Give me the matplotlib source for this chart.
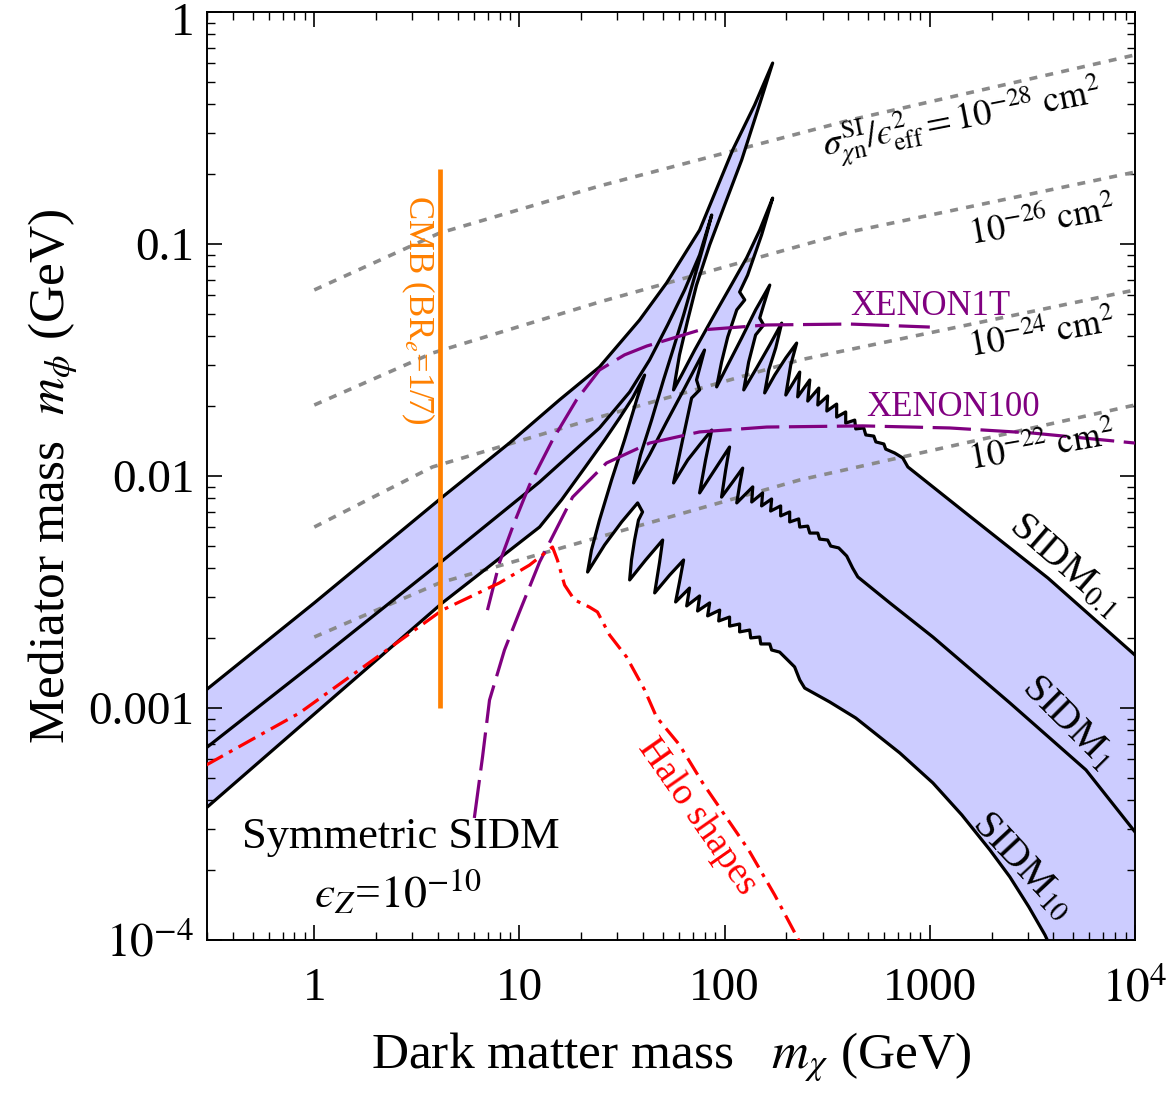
import numpy as np
import matplotlib
matplotlib.use('Agg')
import matplotlib.pyplot as plt
from matplotlib.ticker import FixedLocator, FixedFormatter, LogLocator, NullFormatter
from matplotlib.transforms import ScaledTranslation

plt.rcParams['font.family'] = ['Liberation Serif', 'DejaVu Serif']
plt.rcParams['mathtext.fontset'] = 'stix'

# ---------------- data (log10 of GeV) ----------------
s01_lx = [-0.527, 0.000, 0.624, 0.951, 1.195, 1.390, 1.585, 1.717, 1.878, 2.039, 2.146, 2.234,
          2.180, 2.083, 2.000, 1.927, 1.863, 1.820, 1.780, 1.751,
          1.790, 1.854, 1.941, 2.024, 2.107, 2.171, 2.234,
          2.180, 2.112, 2.073, 2.098, 2.059, 2.015, 1.985, 1.961,
          2.015, 2.083, 2.151, 2.220,
          2.190, 2.171, 2.190, 2.151, 2.117, 2.093,
          2.156, 2.220, 2.278, 2.249, 2.215, 2.195,
          2.244, 2.298, 2.351, 2.322, 2.298,
          2.366, 2.356, 2.415, 2.405, 2.459, 2.454, 2.502, 2.498, 2.546, 2.546, 2.590, 2.590,
          2.634, 2.639, 2.678, 2.688, 2.727, 2.737, 2.776, 2.785, 2.829, 2.868, 2.893,
          3.200, 3.576, 4.000]
s01_ly = [-2.922, -2.547, -2.091, -1.858, -1.672, -1.530, -1.328, -1.168, -0.940, -0.595, -0.401, -0.220,
          -0.371, -0.638, -0.832, -1.004, -1.177, -1.328, -1.478, -1.629,
          -1.565, -1.457, -1.319, -1.190, -1.060, -0.940, -0.802,
          -0.961, -1.134, -1.207, -1.241, -1.284, -1.401, -1.509, -1.616,
          -1.522, -1.405, -1.284, -1.177,
          -1.263, -1.319, -1.349, -1.392, -1.509, -1.629,
          -1.534, -1.435, -1.341, -1.448, -1.543, -1.642,
          -1.565, -1.491, -1.427, -1.522, -1.651,
          -1.552, -1.659, -1.586, -1.677, -1.621, -1.694, -1.655, -1.720, -1.690, -1.746, -1.724, -1.772,
          -1.759, -1.797, -1.793, -1.823, -1.828, -1.853, -1.862, -1.884, -1.901, -1.922, -1.961,
          -2.177, -2.440, -2.772]

s1_lx = [-0.527, 0.000, 0.624, 1.098, 1.390, 1.537, 1.634, 1.722, 1.805, 1.878, 1.937,
         1.898, 1.849, 1.800, 1.751, 1.702, 1.644, 1.590, 1.556,
         1.634, 1.717, 1.805, 1.902, 1.863, 1.878, 1.839, 1.795, 1.751,
         1.820, 1.878, 1.937, 1.907, 1.878,
         1.951, 2.024, 2.005, 1.985,
         2.039, 2.088, 2.073, 2.059,
         2.137, 2.132,
         2.185, 2.180, 2.229, 2.224, 2.273, 2.273, 2.317, 2.317, 2.361, 2.366, 2.405, 2.415,
         2.454, 2.463, 2.502, 2.517, 2.556, 2.595, 2.624, 2.649,
         2.805, 3.015, 3.390, 3.761, 4.000]
s1_ly = [-3.172, -2.806, -2.366, -2.026, -1.793, -1.638, -1.500, -1.349, -1.198, -1.047, -0.875,
         -1.004, -1.155, -1.306, -1.448, -1.586, -1.759, -1.909, -2.030,
         -1.909, -1.767, -1.621, -1.457, -1.586, -1.629, -1.664, -1.845, -2.030,
         -1.931, -1.866, -1.802, -1.931, -2.073,
         -1.974, -1.875, -1.974, -2.091,
         -2.026, -1.966, -2.039, -2.116,
         -2.047, -2.112,
         -2.073, -2.129, -2.099, -2.151, -2.129, -2.172, -2.155, -2.198, -2.185, -2.220, -2.216, -2.246,
         -2.246, -2.272, -2.276, -2.302, -2.310, -2.345, -2.397, -2.435,
         -2.547, -2.694, -2.978, -3.267, -3.534]

s10_lx = [-0.527, 0.000, 0.624, 1.098, 1.205, 1.317, 1.415, 1.488, 1.551, 1.610,
          1.571, 1.512, 1.449, 1.390, 1.351, 1.332,
          1.415, 1.498, 1.576, 1.600, 1.580, 1.561, 1.546, 1.537,
          1.615, 1.698, 1.683, 1.659,
          1.732, 1.800, 1.780, 1.761,
          1.829, 1.815, 1.878, 1.868, 1.927, 1.917, 1.976, 1.971, 2.024, 2.024, 2.073, 2.073,
          2.122, 2.127, 2.171, 2.176, 2.220, 2.229, 2.268, 2.307, 2.341, 2.366, 2.390,
          2.512, 2.639, 2.854, 3.015, 3.156, 3.293, 3.390, 3.483, 3.561, 3.595]
s10_ly = [-3.431, -3.026, -2.547, -2.220, -2.103, -1.966, -1.845, -1.750, -1.664, -1.565,
          -1.672, -1.845, -2.017, -2.190, -2.319, -2.414,
          -2.297, -2.198, -2.116, -2.155, -2.190, -2.276, -2.362, -2.448,
          -2.362, -2.276, -2.371, -2.504,
          -2.427, -2.362, -2.457, -2.543,
          -2.483, -2.560, -2.517, -2.582, -2.547, -2.603, -2.578, -2.625, -2.608, -2.647, -2.638, -2.672,
          -2.664, -2.698, -2.694, -2.724, -2.724, -2.750, -2.759, -2.793, -2.823, -2.879, -2.914,
          -2.974, -3.043, -3.194, -3.323, -3.461, -3.612, -3.728, -3.858, -3.978, -4.043]

sig28_lx = [0.0, 0.610, 1.390, 2.610, 4.0]
sig28_ly = [-1.198, -0.953, -0.750, -0.466, -0.185]
sig26_lx = [0.0, 0.576, 1.390, 2.610, 4.0]
sig26_ly = [-1.694, -1.470, -1.250, -0.948, -0.690]
sig24_lx = [0.0, 0.576, 1.390, 2.366, 4.0]
sig24_ly = [-2.220, -1.961, -1.746, -1.500, -1.198]
sig22_lx = [0.0, 0.610, 1.390, 2.366, 4.0]
sig22_ly = [-2.694, -2.461, -2.263, -2.017, -1.694]

x1t_lx = [0.844, 0.902, 0.976, 1.049, 1.161, 1.278, 1.390, 1.512, 1.620, 1.878, 2.205, 2.610, 3.0]
x1t_ly = [-2.578, -2.375, -2.198, -2.039, -1.845, -1.672, -1.543, -1.478, -1.440, -1.371, -1.349, -1.345, -1.358]
x100_lx = [0.780, 0.820, 0.854, 0.927, 1.0, 1.098, 1.259, 1.424, 1.634, 1.878, 2.205, 2.673, 3.098, 3.502, 4.0]
x100_ly = [-3.474, -3.211, -2.966, -2.750, -2.586, -2.371, -2.091, -1.944, -1.858, -1.810, -1.789,
           -1.784, -1.793, -1.815, -1.858]

halo_lx = [-0.527, -0.073, 0.624, 0.902, 1.049, 1.161, 1.185, 1.220, 1.268, 1.341, 1.380, 1.439,
           1.522, 1.610, 1.668, 1.780, 1.893, 2.0, 2.117, 2.244, 2.366]
halo_ly = [-3.246, -3.022, -2.578, -2.461, -2.384, -2.306, -2.362, -2.470, -2.534, -2.565, -2.586,
           -2.685, -2.780, -2.922, -3.039, -3.159, -3.323, -3.461, -3.612, -3.806, -4.009]

cmb_mchi = 4.12
cmb_mphi = [0.001, 0.21]

xticks = [1, 10, 100, 1000, 1e4]
xticklabels = ['1', '10', '100', '1000', r'$10^4$']
yticks = [1e-4, 1e-3, 1e-2, 1e-1, 1]
yticklabels = [r'$10^{-4}$', '0.001', '0.01', '0.1', '1']

xlim = (0.3, 1e4)
ylim = (1e-4, 1)


def p(a):
    return 10.0 ** np.asarray(a)


fig = plt.figure(figsize=(11.66, 10.95), dpi=100)
ax = fig.add_axes([207 / 1166, 1 - 940 / 1095, 928 / 1166, 928 / 1095])
ax.set_xscale('log')
ax.set_yscale('log')

# shaded band between SIDM_0.1 and SIDM_10
fx = np.concatenate([p(s01_lx), [xlim[1] * 1.2, xlim[1] * 1.2], p(s10_lx)[::-1]])
fy = np.concatenate([p(s01_ly), [p(s01_ly)[-1], ylim[0] * 0.8], p(s10_ly)[::-1]])
ax.fill(fx, fy, color='#ccccff', lw=0, zorder=1)

gray = '#8a8a8a'
for lx, ly in [(sig28_lx, sig28_ly), (sig26_lx, sig26_ly), (sig24_lx, sig24_ly), (sig22_lx, sig22_ly)]:
    ax.plot(p(lx), p(ly), color=gray, lw=2.6, linestyle=(0, (2.2, 2.3)), zorder=2)

for lx, ly in [(s01_lx, s01_ly), (s1_lx, s1_ly), (s10_lx, s10_ly)]:
    ax.plot(p(lx), p(ly), color='black', lw=2.3, solid_joinstyle='round', zorder=3)

purple = '#800080'
ax.plot(p(x1t_lx), p(x1t_ly), color=purple, lw=2.3, linestyle=(0, (12, 3)), zorder=4)
ax.plot(p(x100_lx), p(x100_ly), color=purple, lw=2.3, linestyle=(0, (12, 3)), zorder=4)

ax.plot(p(halo_lx), p(halo_ly), color='#ff0000', lw=2.3, linestyle=(0, (6, 2.2, 1.2, 2.2)), zorder=4)

ax.plot([cmb_mchi, cmb_mchi], cmb_mphi, color='#ff8000', lw=3.4, solid_capstyle='butt', zorder=5)

ax.set_xlim(*xlim)
ax.set_ylim(*ylim)

ax.xaxis.set_major_locator(FixedLocator(xticks))
ax.xaxis.set_major_formatter(FixedFormatter(xticklabels))
ax.yaxis.set_major_locator(FixedLocator(yticks))
ax.yaxis.set_major_formatter(FixedFormatter(yticklabels))
ax.xaxis.set_minor_locator(LogLocator(base=10, subs=np.arange(2, 10), numticks=20))
ax.yaxis.set_minor_locator(LogLocator(base=10, subs=np.arange(2, 10), numticks=20))
ax.xaxis.set_minor_formatter(NullFormatter())
ax.yaxis.set_minor_formatter(NullFormatter())
ax.tick_params(which='both', direction='in', top=True, right=True)
ax.tick_params(which='major', length=11, width=1.2)
ax.tick_params(which='minor', length=6, width=1.0)
ax.tick_params(axis='x', which='major', pad=20, labelsize=34)
ax.tick_params(axis='y', which='major', pad=9, labelsize=34)
for s in ax.spines.values():
    s.set_linewidth(1.4)

# nudge the top y tick label ("1") down so it stays inside the figure
top_tick = ax.yaxis.get_major_ticks()[-1]
top_tick.label1.set_transform(top_tick.label1.get_transform() +
                              ScaledTranslation(0, -0.07, fig.dpi_scale_trans))

ax.set_xlabel(r'Dark matter mass   $m_\chi$ (GeV)', fontsize=37, labelpad=14)
ax.set_ylabel(r'Mediator mass  $m_\phi$ (GeV)', fontsize=37, labelpad=6)

T = ax.transAxes
ax.text(0.8136, 0.8815, '$\\sigma^{\\rm SI}_{\\chi{\\rm n}}/\u03f5^2_{\\rm eff} = 10^{-28}\\ {\\rm cm}^2$',
        transform=T, fontsize=26, rotation=11, ha='center', va='center', zorder=6)
ax.text(0.900, 0.774, r'$10^{-26}\ {\rm cm}^2$', transform=T, fontsize=26, rotation=10,
        ha='center', va='center', zorder=6)
ax.text(0.900, 0.652, r'$10^{-24}\ {\rm cm}^2$', transform=T, fontsize=26, rotation=10,
        ha='center', va='center', zorder=6)
ax.text(0.900, 0.531, r'$10^{-22}\ {\rm cm}^2$', transform=T, fontsize=26, rotation=10,
        ha='center', va='center', zorder=6)
ax.text(0.779, 0.683, 'XENON1T', transform=T, fontsize=25, color=purple, ha='center', va='center', zorder=6)
ax.text(0.804, 0.574, 'XENON100', transform=T, fontsize=25, color=purple, ha='center', va='center', zorder=6)
ax.text(0.9246, 0.404, r'SIDM$_{0.1}$', transform=T, fontsize=29, rotation=-41, ha='center', va='center', zorder=6)
ax.text(0.9267, 0.234, r'SIDM$_{1}$', transform=T, fontsize=29, rotation=-45, ha='center', va='center', zorder=6)
ax.text(0.879, 0.080, r'SIDM$_{10}$', transform=T, fontsize=29, rotation=-47, ha='center', va='center', zorder=6)
ax.text(0.528, 0.1325, 'Halo shapes', transform=T, fontsize=27, rotation=-55, color='#ff0000',
        ha='center', va='center', zorder=6)
ax.text(0.227, 0.679, r'CMB (BR$_e$=1/7)', transform=T, fontsize=25, rotation=270, color='#ff8000',
        ha='center', va='center', zorder=6)
ax.text(0.209, 0.111, 'Symmetric SIDM', transform=T, fontsize=32, ha='center', va='center', zorder=6)
ax.text(0.206, 0.0506, '$\u03f5_Z$=$10^{-10}$', transform=T, fontsize=33, ha='center', va='center', zorder=6)

fig.savefig('out.png', dpi=100)
